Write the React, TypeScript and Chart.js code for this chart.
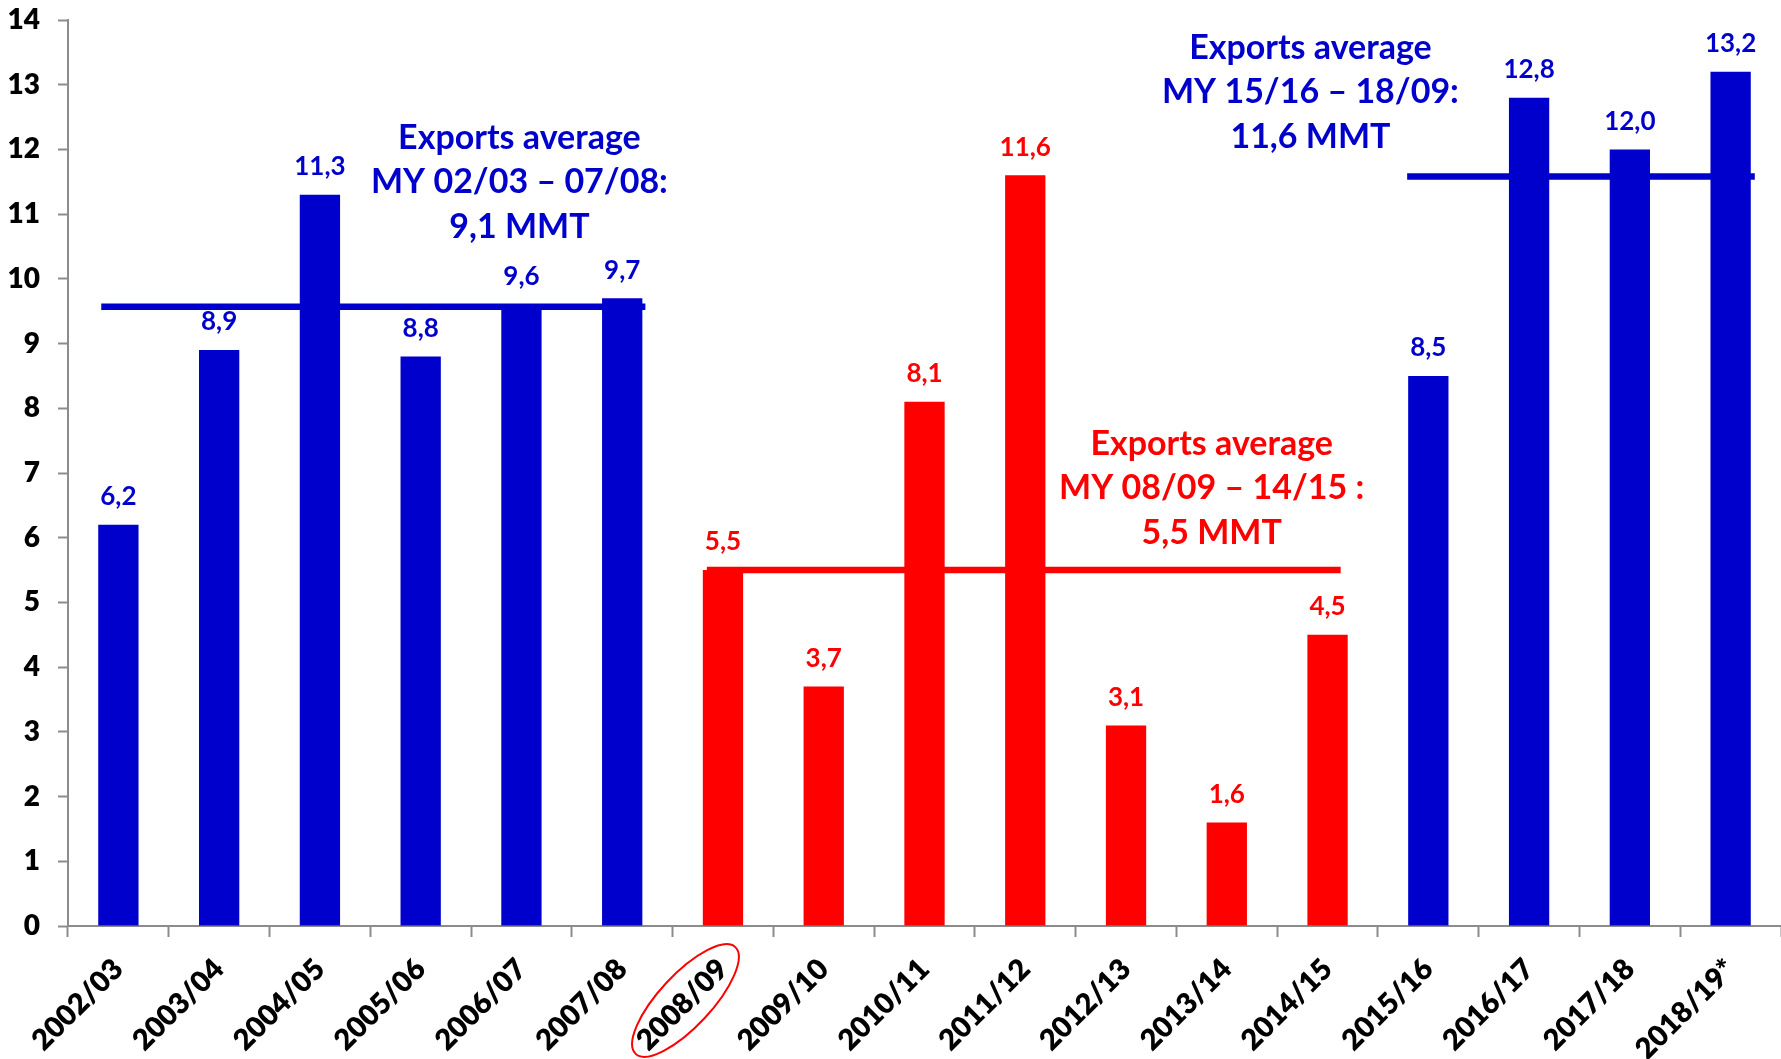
import React, { useEffect, useRef } from 'react';
import { Chart, registerables } from 'chart.js';

Chart.register(...registerables);

// ---------------- data ----------------
const CATEGORIES = [
  '2002/03', '2003/04', '2004/05', '2005/06', '2006/07', '2007/08', '2008/09',
  '2009/10', '2010/11', '2011/12', '2012/13', '2013/14', '2014/15',
  '2015/16', '2016/17', '2017/18', '2018/19*',
];
const EXPORTS = [6.2, 8.9, 11.3, 8.8, 9.6, 9.7, 5.5, 3.7, 8.1, 11.6, 3.1, 1.6, 4.5, 8.5, 12.8, 12.0, 13.2];
// period each marketing year belongs to
const PERIOD_OF_BAR = [0, 0, 0, 0, 0, 0, 1, 1, 1, 1, 1, 1, 1, 2, 2, 2, 2];
const PERIOD_COLORS = ['#0000CC', '#FF0000', '#0000CC'];

// average lines (level as drawn in the reference, span in category units)
const AVERAGE_LEVELS = [9.57, 5.5, 11.58];
const AVERAGE_SPANS = [[-0.17, 5.23], [5.84, 12.13], [12.79, 16.24]];
const AVERAGE_TEXTS = [
  ['Exports average', 'MY 02/03 \u2013 07/08:', '9,1 MMT'],
  ['Exports average', 'MY 08/09 \u2013 14/15 :', '5,5 MMT'],
  ['Exports average', 'MY 15/16 \u2013 18/09:', '11,6 MMT'],
];
// text anchor (center x in category units, first line y in value units)
const AVERAGE_TEXT_ANCHORS = [[3.98, 12.18], [10.85, 7.45], [11.83, 13.57]];

const Y_MIN = 0;
const Y_MAX = 14;
const Y_STEP = 1;
const HIGHLIGHT_INDEX = 6;

const FONT = 'Lato, "Open Sans", sans-serif';
const AXIS_GRAY = '#8c8c8c';

const fmt = (v: number) => v.toFixed(1).replace('.', ',');

const annotationsPlugin = {
  id: 'annotations',
  afterDatasetsDraw(chart: any) {
    const ctx = chart.ctx;
    const yScale = chart.scales.y;
    const xLine = chart.scales.xLine;
    const xScale = chart.scales.x;

    // value labels
    const meta = chart.getDatasetMeta(0);
    ctx.save();
    ctx.font = `bold 26px ${FONT}`;
    ctx.textAlign = 'center';
    ctx.textBaseline = 'middle';
    meta.data.forEach((el: any, i: number) => {
      ctx.fillStyle = PERIOD_COLORS[PERIOD_OF_BAR[i]];
      ctx.fillText(fmt(EXPORTS[i]), el.x, el.y - 28);
    });

    // average texts
    ctx.font = `bold 34px ${FONT}`;
    AVERAGE_TEXTS.forEach((lines, k) => {
      const [ax, ay] = AVERAGE_TEXT_ANCHORS[k];
      const x = xLine.getPixelForValue(ax);
      const y0 = yScale.getPixelForValue(ay);
      ctx.fillStyle = PERIOD_COLORS[k];
      lines.forEach((t, j) => ctx.fillText(t, x, y0 + j * 44.5));
    });

    // ellipse around highlighted category label
    const tx = xScale.getPixelForValue(HIGHLIGHT_INDEX);
    const ty = chart.chartArea.bottom;
    ctx.strokeStyle = '#FF0000';
    ctx.lineWidth = 2;
    ctx.beginPath();
    ctx.ellipse(tx - 37.5, ty + 74.5, 73, 26, -Math.PI * 47 / 180, 0, Math.PI * 2);
    ctx.stroke();
    ctx.restore();
  },
};

export default function App() {
  const canvasRef = useRef<HTMLCanvasElement | null>(null);

  useEffect(() => {
    document.body.style.margin = '0';
    const canvas = canvasRef.current;
    if (!canvas) return;

    const lineDatasets = AVERAGE_LEVELS.map((lvl, k) => ({
      type: 'line' as const,
      data: AVERAGE_SPANS[k].map((x) => ({ x, y: lvl })),
      xAxisID: 'xLine',
      yAxisID: 'y',
      borderColor: PERIOD_COLORS[k],
      borderWidth: 6.5,
      pointRadius: 0,
      borderCapStyle: 'butt' as const,
      order: 0,
    }));

    const chart = new Chart(canvas, {
      type: 'bar',
      data: {
        labels: CATEGORIES,
        datasets: [
          {
            type: 'bar',
            data: EXPORTS,
            xAxisID: 'x',
            yAxisID: 'y',
            backgroundColor: PERIOD_OF_BAR.map((p) => PERIOD_COLORS[p]),
            categoryPercentage: 1,
            barPercentage: 0.4,
            grouped: false,
            order: 1,
          } as any,
          ...lineDatasets,
        ],
      },
      options: {
        animation: false,
        responsive: false,
        maintainAspectRatio: false,
        layout: { padding: { top: 20, right: 0, left: 0, bottom: 0 } },
        plugins: {
          legend: { display: false },
          tooltip: { enabled: false },
        },
        scales: {
          x: {
            type: 'category',
            offset: true,
            grid: {
              display: true,
              drawOnChartArea: false,
              drawTicks: true,
              tickLength: 11,
              tickColor: AXIS_GRAY,
              tickWidth: 2,
              offset: true,
            },
            border: { display: true, color: AXIS_GRAY, width: 2 },
            ticks: {
              autoSkip: false,
              maxRotation: 45,
              minRotation: 45,
              color: '#000',
              padding: 15,
              font: { family: FONT, size: 29, weight: 800 },
            },
            afterFit(scale: any) {
              scale.height = 133;
              scale.paddingLeft = 0;
              scale.paddingRight = 0;
            },
          },
          xLine: {
            type: 'linear',
            axis: 'x',
            position: 'bottom',
            display: false,
            offset: false,
            grid: { offset: false },
            min: -0.5,
            max: CATEGORIES.length - 0.5,
          },
          y: {
            min: Y_MIN,
            max: Y_MAX,
            grid: {
              display: true,
              drawOnChartArea: false,
              drawTicks: true,
              tickLength: 10,
              tickColor: AXIS_GRAY,
              tickWidth: 2,
            },
            border: { display: true, color: AXIS_GRAY, width: 2 },
            ticks: {
              stepSize: Y_STEP,
              color: '#000',
              padding: 18,
              font: { family: FONT, size: 28, weight: 800 },
            },
            afterFit(scale: any) {
              scale.width = 68;
              scale.paddingTop = 0;
              scale.paddingBottom = 0;
            },
          },
        },
      } as any,
      plugins: [annotationsPlugin],
    });

    return () => chart.destroy();
  }, []);

  return (
    <div style={{ width: 1781, height: 1059 }}>
      <canvas ref={canvasRef} width={1781} height={1059} style={{ display: 'block' }} />
    </div>
  );
}
